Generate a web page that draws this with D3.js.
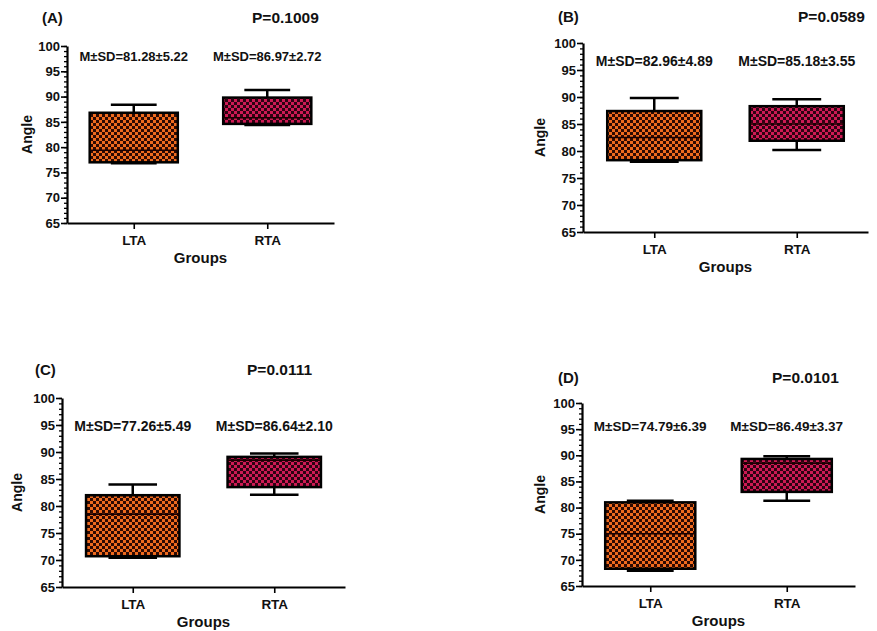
<!DOCTYPE html>
<html>
<head>
<meta charset="utf-8">
<script src="https://cdn.jsdelivr.net/npm/d3@7"></script>
<style>
  body { margin: 0; background: #fff; }
  svg { display: block; font-family: "Liberation Sans", Arial, sans-serif; font-weight: bold; }
</style>
</head>
<body>
<div id="chart"></div>
<script>
// Data
const groups = ["LTA", "RTA"];
const panelNames = ["(A)", "(B)", "(C)", "(D)"];
const pLabels = ["P=0.1009", "P=0.0589", "P=0.0111", "P=0.0101"];
const meanSd = [
  ["M\u00b1SD=81.28\u00b15.22", "M\u00b1SD=86.97\u00b12.72"],
  ["M\u00b1SD=82.96\u00b14.89", "M\u00b1SD=85.18\u00b13.55"],
  ["M\u00b1SD=77.26\u00b15.49", "M\u00b1SD=86.64\u00b12.10"],
  ["M\u00b1SD=74.79\u00b16.39", "M\u00b1SD=86.49\u00b13.37"]
];
// box stats per panel: [LTA, RTA]
const statsA = [
  { min: 76.8, q1: 77.0, med: 79.4, q3: 86.8, max: 88.4 },
  { min: 84.4, q1: 84.6, med: 85.8, q3: 89.8, max: 91.3 }
];
const statsB = [
  { min: 78.0, q1: 78.3, med: 82.5, q3: 87.4, max: 89.8 },
  { min: 80.2, q1: 81.9, med: 85.0, q3: 88.3, max: 89.6 }
];
const statsC = [
  { min: 70.4, q1: 70.7, med: 78.5, q3: 82.0, max: 84.0 },
  { min: 82.1, q1: 83.5, med: 88.5, q3: 89.1, max: 89.7 }
];
const statsD = [
  { min: 67.9, q1: 68.3, med: 75.0, q3: 81.0, max: 81.3 },
  { min: 81.3, q1: 83.0, med: 88.5, q3: 89.3, max: 89.8 }
];
const allStats = [statsA, statsB, statsC, statsD];
const yTicks = [65, 70, 75, 80, 85, 90, 95, 100];

// Panel frames (pixel layout)
const frames = [
  { left: 67, right: 334, top: 46, bottom: 223, titleY: 23, pX: 252, sdY: 61, sdSize: 13, angleX: 27 },
  { left: 583, right: 868, top: 43, bottom: 232, titleY: 22, pX: 798, sdY: 66, sdSize: 14, angleX: 540 },
  { left: 62, right: 345, top: 398, bottom: 587, titleY: 375, pX: 247, sdY: 431, sdSize: 14, angleX: 17 },
  { left: 582, right: 855, top: 403, bottom: 586, titleY: 383, pX: 772, sdY: 431, sdSize: 13.5, angleX: 540 }
];
const titleX = [42, 558, 35, 558];

const width = 877, height = 631;
const svg = d3.select("#chart").append("svg")
  .attr("width", width).attr("height", height);

// checkerboard fills
const defs = svg.append("defs");
const fills = [
  { id: "chkOrange", light: "#ee6a1e", dark: "#2e0a02" },
  { id: "chkPink", light: "#cf1a54", dark: "#2e0312" }
];
fills.forEach((f) => {
  const p = defs.append("pattern")
    .attr("id", f.id)
    .attr("patternUnits", "userSpaceOnUse")
    .attr("width", 6).attr("height", 6);
  p.append("rect").attr("width", 6).attr("height", 6).attr("fill", f.light);
  p.append("rect").attr("width", 3).attr("height", 3).attr("fill", f.dark);
  p.append("rect").attr("x", 3).attr("y", 3).attr("width", 3).attr("height", 3).attr("fill", f.dark);
});

frames.forEach((fr, i) => {
  const g = svg.append("g");
  const stats = allStats[i];

  const y = d3.scaleLinear().domain([65, 100]).range([fr.bottom, fr.top]);
  const x = d3.scalePoint().domain(groups).range([fr.left, fr.right]).padding(0.5);
  const boxW = (fr.right - fr.left) * 0.33;
  const capW = boxW * 0.52;

  // minor ticks
  g.append("g")
    .attr("transform", `translate(${fr.left},0)`)
    .call(d3.axisLeft(y).tickValues(d3.range(65, 101)).tickSize(3).tickSizeOuter(0).tickFormat(""))
    .call((a) => a.select(".domain").remove())
    .call((a) => a.selectAll("line").attr("stroke-width", 1.3));

  // major ticks + labels
  const yAx = g.append("g")
    .attr("transform", `translate(${fr.left},0)`)
    .call(d3.axisLeft(y).tickValues(yTicks).tickSize(6).tickSizeOuter(0).tickPadding(1));
  yAx.select(".domain").attr("stroke-width", 2.2);
  yAx.selectAll("line").attr("stroke-width", 1.6);
  yAx.selectAll("text")
    .attr("font-size", 13)
    .attr("font-weight", "bold")
    .attr("font-family", "'Liberation Sans', Arial, sans-serif")
    .attr("fill", "#111");

  // x axis
  const xAx = g.append("g")
    .attr("transform", `translate(0,${fr.bottom})`)
    .call(d3.axisBottom(x).tickSize(6).tickSizeOuter(0).tickPadding(6));
  xAx.select(".domain").attr("stroke-width", 2.2);
  xAx.selectAll("line").attr("stroke-width", 1.6);
  xAx.selectAll("text")
    .attr("font-size", 13.5)
    .attr("font-weight", "bold")
    .attr("font-family", "'Liberation Sans', Arial, sans-serif")
    .attr("fill", "#111");

  // boxes
  groups.forEach((grp, j) => {
    const s = stats[j];
    const cx = x(grp);
    const bg = g.append("g");
    // whiskers
    bg.append("line")
      .attr("x1", cx).attr("x2", cx)
      .attr("y1", y(s.max)).attr("y2", y(s.q3))
      .attr("stroke", "#000").attr("stroke-width", 2.5);
    bg.append("line")
      .attr("x1", cx).attr("x2", cx)
      .attr("y1", y(s.q1)).attr("y2", y(s.min))
      .attr("stroke", "#000").attr("stroke-width", 2.5);
    [s.max, s.min].forEach((v) => {
      bg.append("line")
        .attr("x1", cx - capW / 2).attr("x2", cx + capW / 2)
        .attr("y1", y(v)).attr("y2", y(v))
        .attr("stroke", "#000").attr("stroke-width", 2.5);
    });
    bg.append("rect")
      .attr("x", cx - boxW / 2)
      .attr("y", y(s.q3))
      .attr("width", boxW)
      .attr("height", y(s.q1) - y(s.q3))
      .attr("fill", `url(#${fills[j].id})`)
      .attr("stroke", "#000")
      .attr("stroke-width", 2.5);
    bg.append("line")
      .attr("x1", cx - boxW / 2).attr("x2", cx + boxW / 2)
      .attr("y1", y(s.med)).attr("y2", y(s.med))
      .attr("stroke", "#1a0000").attr("stroke-width", 1.6);

    // M±SD label
    g.append("text")
      .attr("x", cx)
      .attr("y", fr.sdY)
      .attr("text-anchor", "middle")
      .attr("font-size", fr.sdSize)
      .attr("fill", "#111")
      .text(meanSd[i][j]);
  });

  // panel title and P value
  g.append("text")
    .attr("x", titleX[i]).attr("y", fr.titleY)
    .attr("font-size", 15).attr("fill", "#111")
    .text(panelNames[i]);
  g.append("text")
    .attr("x", fr.pX).attr("y", fr.titleY)
    .attr("font-size", 15.5).attr("fill", "#111")
    .text(pLabels[i]);

  // axis titles
  g.append("text")
    .attr("transform", `translate(${fr.angleX + 5},${(fr.top + fr.bottom) / 2}) rotate(-90)`)
    .attr("text-anchor", "middle")
    .attr("font-size", 14).attr("fill", "#111")
    .text("Angle");
  g.append("text")
    .attr("x", (fr.left + fr.right) / 2)
    .attr("y", fr.bottom + 40)
    .attr("text-anchor", "middle")
    .attr("font-size", 15).attr("fill", "#111")
    .text("Groups");
});
</script>
</body>
</html>
